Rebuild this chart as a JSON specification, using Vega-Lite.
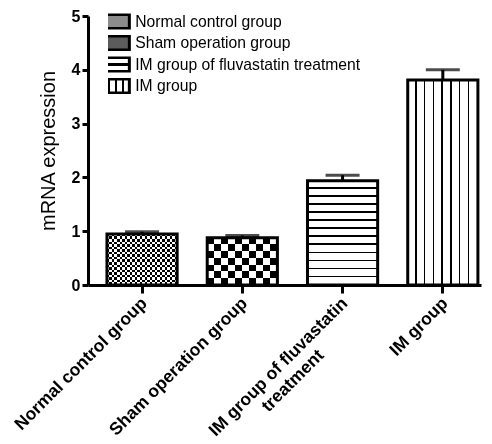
{
  "$schema": "https://vega.github.io/schema/vega-lite/v6.json",
  "width": 393,
  "height": 269,
  "autosize": {"type": "none"},
  "padding": {"left": 88, "top": 16, "right": 11, "bottom": 159},
  "background": "white",
  "config": {
    "font": "Liberation Sans",
    "view": {"stroke": null},
    "axis": {"grid": false, "domainColor": "black", "tickColor": "black", "labelColor": "black", "titleColor": "black"}
  },
  "data": {
    "values": [
      {"group": "Normal control group", "mean": 0.95, "upper": 0.99},
      {"group": "Sham operation group", "mean": 0.88, "upper": 0.92},
      {"group": "IM group of fluvastatin treatment", "mean": 1.94, "upper": 2.04},
      {"group": "IM group", "mean": 3.81, "upper": 4.0}
    ]
  },
  "encoding": {
    "x": {
      "field": "group",
      "type": "nominal",
      "scale": {
        "domain": ["Normal control group", "Sham operation group", "IM group of fluvastatin treatment", "IM group"],
        "paddingInner": 0.3,
        "paddingOuter": 0.11,
        "align": 0.86
      },
      "axis": {
        "title": null,
        "labelAngle": -45,
        "labelFontSize": 17.5,
        "labelFontWeight": "bold",
        "labelLimit": 400,
        "labelPadding": 1,
        "labelOffset": -4,
        "labelLineHeight": 20,
        "tickSize": 8,
        "tickWidth": 3,
        "domainWidth": 3,
        "labelExpr": "datum.value === 'IM group of fluvastatin treatment' ? ['IM group of fluvastatin', 'treatment\u00a0\u00a0\u00a0\u00a0\u00a0\u00a0\u00a0\u00a0\u00a0\u00a0\u00a0\u200b'] : datum.value"
      }
    },
    "y": {
      "field": "mean",
      "type": "quantitative",
      "scale": {"domain": [0, 5], "nice": false},
      "axis": {
        "title": "mRNA expression",
        "values": [0, 1, 2, 3, 4, 5],
        "labelFontSize": 16,
        "labelFontWeight": "bold",
        "labelPadding": 2,
        "tickSize": 6,
        "tickWidth": 3,
        "domainWidth": 3,
        "titleFontSize": 20,
        "titleFontWeight": "normal",
        "titlePadding": 13
      }
    }
  },
  "layer": [
    {
      "mark": {"type": "bar", "opacity": 0},
      "encoding": {
        "fill": {
          "field": "group",
          "type": "nominal",
          "scale": {
            "domain": ["Normal control group", "Sham operation group", "IM group of fluvastatin treatment", "IM group"],
            "range": [
              "#8c8c8c",
              "#5c5c5c",
              {"expr": "{gradient: 'linear', x1: 0, y1: 0, x2: 0, y2: 1, stops: [{offset: 0, color: 'white'}, {offset: 0.42, color: 'white'}, {offset: 0.42, color: 'black'}, {offset: 0.58, color: 'black'}, {offset: 0.58, color: 'white'}, {offset: 1, color: 'white'}]}"},
              {"expr": "{gradient: 'linear', x1: 0, y1: 0, x2: 1, y2: 0, stops: [{offset: 0, color: 'white'}, {offset: 0.18, color: 'white'}, {offset: 0.18, color: 'black'}, {offset: 0.23, color: 'black'}, {offset: 0.23, color: 'white'}, {offset: 0.38, color: 'white'}, {offset: 0.38, color: 'black'}, {offset: 0.43, color: 'black'}, {offset: 0.43, color: 'white'}, {offset: 0.58, color: 'white'}, {offset: 0.58, color: 'black'}, {offset: 0.63, color: 'black'}, {offset: 0.63, color: 'white'}, {offset: 0.78, color: 'white'}, {offset: 0.78, color: 'black'}, {offset: 0.83, color: 'black'}, {offset: 0.83, color: 'white'}, {offset: 1, color: 'white'}]}"}
            ]
          },
          "legend": {
            "title": null,
            "orient": "none",
            "legendX": 20,
            "legendY": -2.5,
            "symbolType": "M-3.4,-1.15H2.25V1.15H-3.4Z",
            "symbolSize": 144,
            "symbolOpacity": 1,
            "symbolStrokeColor": "black",
            "symbolStrokeWidth": 3,
            "labelFontSize": 15.7,
            "labelColor": "black",
            "labelOffset": 11.5,
            "labelLimit": 400,
            "clipHeight": 16,
            "rowPadding": 5.5
          }
        }
      }
    },
    {
      "transform": [{"filter": "datum.group === 'Normal control group'"}],
      "mark": {"type": "bar", "fill": {"gradient": "linear", "x1": 0, "y1": 0, "x2": 0, "y2": 1, "stops": [
        {"offset": 0, "color": "black"}, {"offset": 0.05, "color": "black"}, {"offset": 0.05, "color": "white"}, {"offset": 0.1, "color": "white"},
        {"offset": 0.1, "color": "black"}, {"offset": 0.15, "color": "black"}, {"offset": 0.15, "color": "white"}, {"offset": 0.2, "color": "white"},
        {"offset": 0.2, "color": "black"}, {"offset": 0.25, "color": "black"}, {"offset": 0.25, "color": "white"}, {"offset": 0.3, "color": "white"},
        {"offset": 0.3, "color": "black"}, {"offset": 0.35, "color": "black"}, {"offset": 0.35, "color": "white"}, {"offset": 0.4, "color": "white"},
        {"offset": 0.4, "color": "black"}, {"offset": 0.45, "color": "black"}, {"offset": 0.45, "color": "white"}, {"offset": 0.5, "color": "white"},
        {"offset": 0.5, "color": "black"}, {"offset": 0.55, "color": "black"}, {"offset": 0.55, "color": "white"}, {"offset": 0.6, "color": "white"},
        {"offset": 0.6, "color": "black"}, {"offset": 0.65, "color": "black"}, {"offset": 0.65, "color": "white"}, {"offset": 0.7, "color": "white"},
        {"offset": 0.7, "color": "black"}, {"offset": 0.75, "color": "black"}, {"offset": 0.75, "color": "white"}, {"offset": 0.8, "color": "white"},
        {"offset": 0.8, "color": "black"}, {"offset": 0.85, "color": "black"}, {"offset": 0.85, "color": "white"}, {"offset": 0.9, "color": "white"},
        {"offset": 0.9, "color": "black"}, {"offset": 0.95, "color": "black"}, {"offset": 0.95, "color": "white"}, {"offset": 1, "color": "white"}
      ]}}
    },
    {
      "transform": [{"filter": "datum.group === 'Normal control group'"}],
      "mark": {"type": "bar", "blend": "difference", "fill": {"gradient": "linear", "x1": 0, "y1": 0, "x2": 1, "y2": 0, "stops": [
        {"offset": 0, "color": "black"}, {"offset": 0.0357, "color": "black"}, {"offset": 0.0357, "color": "white"}, {"offset": 0.0714, "color": "white"},
        {"offset": 0.0714, "color": "black"}, {"offset": 0.1071, "color": "black"}, {"offset": 0.1071, "color": "white"}, {"offset": 0.1429, "color": "white"},
        {"offset": 0.1429, "color": "black"}, {"offset": 0.1786, "color": "black"}, {"offset": 0.1786, "color": "white"}, {"offset": 0.2143, "color": "white"},
        {"offset": 0.2143, "color": "black"}, {"offset": 0.25, "color": "black"}, {"offset": 0.25, "color": "white"}, {"offset": 0.2857, "color": "white"},
        {"offset": 0.2857, "color": "black"}, {"offset": 0.3214, "color": "black"}, {"offset": 0.3214, "color": "white"}, {"offset": 0.3571, "color": "white"},
        {"offset": 0.3571, "color": "black"}, {"offset": 0.3929, "color": "black"}, {"offset": 0.3929, "color": "white"}, {"offset": 0.4286, "color": "white"},
        {"offset": 0.4286, "color": "black"}, {"offset": 0.4643, "color": "black"}, {"offset": 0.4643, "color": "white"}, {"offset": 0.5, "color": "white"},
        {"offset": 0.5, "color": "black"}, {"offset": 0.5357, "color": "black"}, {"offset": 0.5357, "color": "white"}, {"offset": 0.5714, "color": "white"},
        {"offset": 0.5714, "color": "black"}, {"offset": 0.6071, "color": "black"}, {"offset": 0.6071, "color": "white"}, {"offset": 0.6429, "color": "white"},
        {"offset": 0.6429, "color": "black"}, {"offset": 0.6786, "color": "black"}, {"offset": 0.6786, "color": "white"}, {"offset": 0.7143, "color": "white"},
        {"offset": 0.7143, "color": "black"}, {"offset": 0.75, "color": "black"}, {"offset": 0.75, "color": "white"}, {"offset": 0.7857, "color": "white"},
        {"offset": 0.7857, "color": "black"}, {"offset": 0.8214, "color": "black"}, {"offset": 0.8214, "color": "white"}, {"offset": 0.8571, "color": "white"},
        {"offset": 0.8571, "color": "black"}, {"offset": 0.8929, "color": "black"}, {"offset": 0.8929, "color": "white"}, {"offset": 0.9286, "color": "white"},
        {"offset": 0.9286, "color": "black"}, {"offset": 0.9643, "color": "black"}, {"offset": 0.9643, "color": "white"}, {"offset": 1, "color": "white"}
      ]}}
    },
    {
      "transform": [{"filter": "datum.group === 'Sham operation group'"}],
      "mark": {"type": "bar", "fill": {"gradient": "linear", "x1": 0, "y1": 0, "x2": 0, "y2": 1, "stops": [
        {"offset": 0, "color": "black"}, {"offset": 0.1429, "color": "black"}, {"offset": 0.1429, "color": "white"}, {"offset": 0.2857, "color": "white"},
        {"offset": 0.2857, "color": "black"}, {"offset": 0.4286, "color": "black"}, {"offset": 0.4286, "color": "white"}, {"offset": 0.5714, "color": "white"},
        {"offset": 0.5714, "color": "black"}, {"offset": 0.7143, "color": "black"}, {"offset": 0.7143, "color": "white"}, {"offset": 0.8571, "color": "white"},
        {"offset": 0.8571, "color": "black"}, {"offset": 1, "color": "black"}
      ]}}
    },
    {
      "transform": [{"filter": "datum.group === 'Sham operation group'"}],
      "mark": {"type": "bar", "blend": "difference", "fill": {"gradient": "linear", "x1": 0, "y1": 0, "x2": 1, "y2": 0, "stops": [
        {"offset": 0, "color": "black"}, {"offset": 0.1, "color": "black"}, {"offset": 0.1, "color": "white"}, {"offset": 0.2, "color": "white"},
        {"offset": 0.2, "color": "black"}, {"offset": 0.3, "color": "black"}, {"offset": 0.3, "color": "white"}, {"offset": 0.4, "color": "white"},
        {"offset": 0.4, "color": "black"}, {"offset": 0.5, "color": "black"}, {"offset": 0.5, "color": "white"}, {"offset": 0.6, "color": "white"},
        {"offset": 0.6, "color": "black"}, {"offset": 0.7, "color": "black"}, {"offset": 0.7, "color": "white"}, {"offset": 0.8, "color": "white"},
        {"offset": 0.8, "color": "black"}, {"offset": 0.9, "color": "black"}, {"offset": 0.9, "color": "white"}, {"offset": 1, "color": "white"}
      ]}}
    },
    {
      "transform": [{"filter": "datum.group === 'IM group of fluvastatin treatment'"}],
      "mark": {"type": "bar", "fill": {"gradient": "linear", "x1": 0, "y1": 0, "x2": 0, "y2": 1, "stops": [
        {"offset": 0, "color": "white"}, {"offset": 0.0638, "color": "white"}, {"offset": 0.0638, "color": "black"}, {"offset": 0.0769, "color": "black"},
        {"offset": 0.0769, "color": "white"}, {"offset": 0.1408, "color": "white"}, {"offset": 0.1408, "color": "black"}, {"offset": 0.1538, "color": "black"},
        {"offset": 0.1538, "color": "white"}, {"offset": 0.2177, "color": "white"}, {"offset": 0.2177, "color": "black"}, {"offset": 0.2308, "color": "black"},
        {"offset": 0.2308, "color": "white"}, {"offset": 0.2946, "color": "white"}, {"offset": 0.2946, "color": "black"}, {"offset": 0.3077, "color": "black"},
        {"offset": 0.3077, "color": "white"}, {"offset": 0.3715, "color": "white"}, {"offset": 0.3715, "color": "black"}, {"offset": 0.3846, "color": "black"},
        {"offset": 0.3846, "color": "white"}, {"offset": 0.4485, "color": "white"}, {"offset": 0.4485, "color": "black"}, {"offset": 0.4615, "color": "black"},
        {"offset": 0.4615, "color": "white"}, {"offset": 0.5254, "color": "white"}, {"offset": 0.5254, "color": "black"}, {"offset": 0.5385, "color": "black"},
        {"offset": 0.5385, "color": "white"}, {"offset": 0.6023, "color": "white"}, {"offset": 0.6023, "color": "black"}, {"offset": 0.6154, "color": "black"},
        {"offset": 0.6154, "color": "white"}, {"offset": 0.6792, "color": "white"}, {"offset": 0.6792, "color": "black"}, {"offset": 0.6923, "color": "black"},
        {"offset": 0.6923, "color": "white"}, {"offset": 0.7562, "color": "white"}, {"offset": 0.7562, "color": "black"}, {"offset": 0.7692, "color": "black"},
        {"offset": 0.7692, "color": "white"}, {"offset": 0.8331, "color": "white"}, {"offset": 0.8331, "color": "black"}, {"offset": 0.8462, "color": "black"},
        {"offset": 0.8462, "color": "white"}, {"offset": 0.91, "color": "white"}, {"offset": 0.91, "color": "black"}, {"offset": 0.9231, "color": "black"},
        {"offset": 0.9231, "color": "white"}, {"offset": 0.9869, "color": "white"}, {"offset": 0.9869, "color": "black"}, {"offset": 1, "color": "black"}
      ]}}
    },
    {
      "transform": [{"filter": "datum.group === 'IM group'"}],
      "mark": {"type": "bar", "fill": {"gradient": "linear", "x1": 0, "y1": 0, "x2": 1, "y2": 0, "stops": [
        {"offset": 0, "color": "white"}, {"offset": 0.106, "color": "white"}, {"offset": 0.106, "color": "black"}, {"offset": 0.125, "color": "black"},
        {"offset": 0.125, "color": "white"}, {"offset": 0.231, "color": "white"}, {"offset": 0.231, "color": "black"}, {"offset": 0.25, "color": "black"},
        {"offset": 0.25, "color": "white"}, {"offset": 0.356, "color": "white"}, {"offset": 0.356, "color": "black"}, {"offset": 0.375, "color": "black"},
        {"offset": 0.375, "color": "white"}, {"offset": 0.481, "color": "white"}, {"offset": 0.481, "color": "black"}, {"offset": 0.5, "color": "black"},
        {"offset": 0.5, "color": "white"}, {"offset": 0.606, "color": "white"}, {"offset": 0.606, "color": "black"}, {"offset": 0.625, "color": "black"},
        {"offset": 0.625, "color": "white"}, {"offset": 0.731, "color": "white"}, {"offset": 0.731, "color": "black"}, {"offset": 0.75, "color": "black"},
        {"offset": 0.75, "color": "white"}, {"offset": 0.856, "color": "white"}, {"offset": 0.856, "color": "black"}, {"offset": 0.875, "color": "black"},
        {"offset": 0.875, "color": "white"}, {"offset": 0.981, "color": "white"}, {"offset": 0.981, "color": "black"}, {"offset": 1, "color": "black"}
      ]}}
    },
    {
      "mark": {"type": "bar", "fill": "transparent", "stroke": "black", "strokeWidth": 3}
    },
    {
      "mark": {"type": "rule", "color": "black", "strokeWidth": 3},
      "encoding": {"y": {"field": "mean", "type": "quantitative"}, "y2": {"field": "upper"}}
    },
    {
      "mark": {"type": "tick", "color": "black", "size": 34, "thickness": 3},
      "encoding": {"y": {"field": "upper", "type": "quantitative"}}
    }
  ]
}
